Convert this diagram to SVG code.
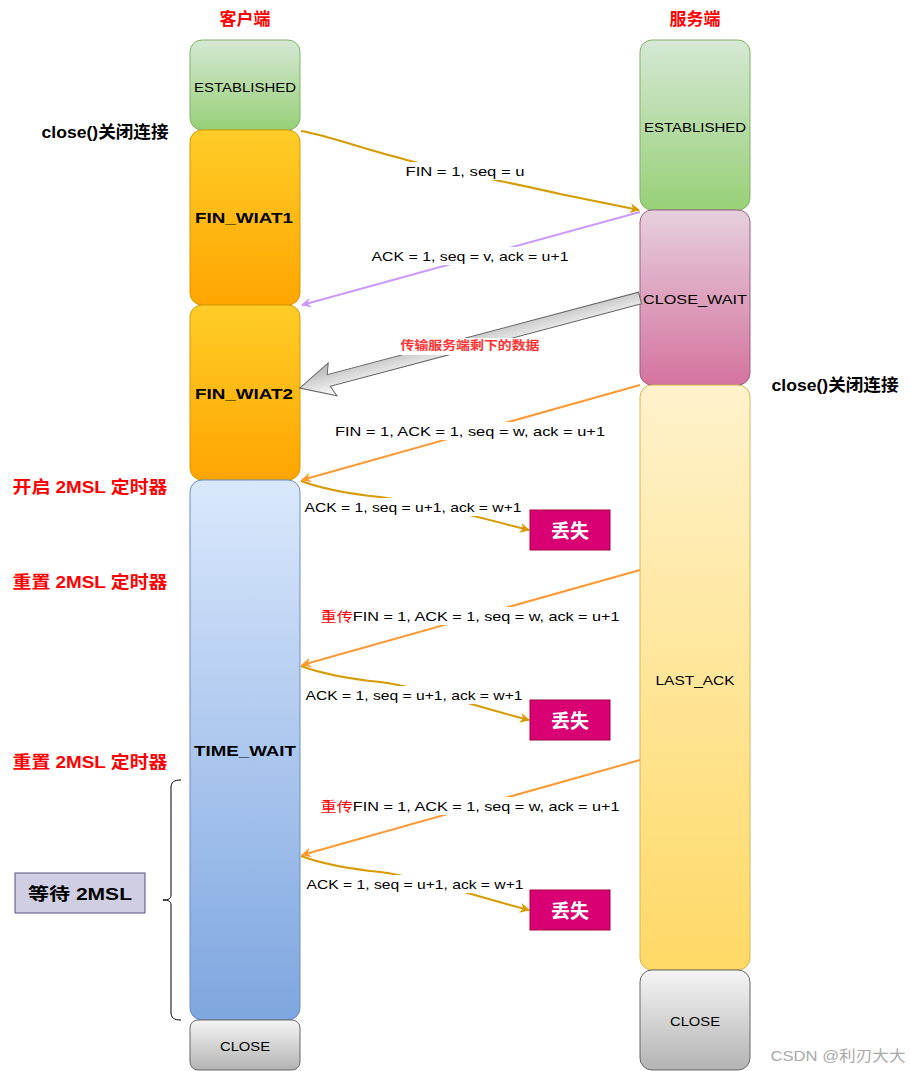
<svg xmlns="http://www.w3.org/2000/svg" width="910" height="1071" viewBox="0 0 910 1071">
<defs>
<linearGradient id="gGreen" x1="0" y1="0" x2="0" y2="1"><stop offset="0" stop-color="#d5e8d4"/><stop offset="1" stop-color="#97d077"/></linearGradient>
<linearGradient id="gOrange" x1="0" y1="0" x2="0" y2="1"><stop offset="0" stop-color="#ffcd28"/><stop offset="1" stop-color="#ffa500"/></linearGradient>
<linearGradient id="gBlue" x1="0" y1="0" x2="0" y2="1"><stop offset="0" stop-color="#dae8fc"/><stop offset="1" stop-color="#7ea6e0"/></linearGradient>
<linearGradient id="gGray" x1="0" y1="0" x2="0" y2="1"><stop offset="0" stop-color="#f5f5f5"/><stop offset="1" stop-color="#b3b3b3"/></linearGradient>
<linearGradient id="gPink" x1="0" y1="0" x2="0" y2="1"><stop offset="0" stop-color="#e6d0de"/><stop offset="1" stop-color="#d5739d"/></linearGradient>
<linearGradient id="gYellow" x1="0" y1="0" x2="0" y2="1"><stop offset="0" stop-color="#fff2cc"/><stop offset="1" stop-color="#ffd966"/></linearGradient>
<linearGradient id="gBig" x1="0" y1="0" x2="0" y2="1"><stop offset="0" stop-color="#ffffff"/><stop offset="1" stop-color="#b3b3b3"/></linearGradient>
<marker id="mGold" viewBox="0 0 10 10" refX="9" refY="5" markerWidth="10" markerHeight="10" markerUnits="userSpaceOnUse" orient="auto"><path d="M0,0 L10,5 L0,10 L3,5 z" fill="#d79b00"/></marker>
<marker id="mPurple" viewBox="0 0 10 10" refX="9" refY="5" markerWidth="10" markerHeight="10" markerUnits="userSpaceOnUse" orient="auto"><path d="M0,0 L10,5 L0,10 L3,5 z" fill="#cc99ff"/></marker>
<marker id="mOrange" viewBox="0 0 10 10" refX="9" refY="5" markerWidth="10" markerHeight="10" markerUnits="userSpaceOnUse" orient="auto"><path d="M0,0 L10,5 L0,10 L3,5 z" fill="#ff9933"/></marker>
</defs>
<style>
.st{font-family:"Liberation Sans",Arial,sans-serif;font-size:13px;fill:#000;text-anchor:middle;dominant-baseline:central}
.stb{font-weight:bold;font-size:14px}
.lbl{font-family:"Liberation Sans",Arial,sans-serif;font-size:13px;fill:#000;text-anchor:middle;dominant-baseline:central}
.red{fill:#ff0000}
.hdr{font-family:"Liberation Sans","Noto Sans CJK SC",sans-serif;font-size:17px;font-weight:bold;fill:#ff0000;text-anchor:middle;dominant-baseline:central}
.note{font-family:"Liberation Sans","Noto Sans CJK SC",sans-serif;font-size:17px;font-weight:bold;fill:#000;text-anchor:middle;dominant-baseline:central}
.cjk{font-family:"Liberation Sans","Noto Sans CJK SC",sans-serif}
.gold{fill:none;stroke:#d79b00;stroke-width:2;marker-end:url(#mGold)}
.purple{fill:none;stroke:#cc99ff;stroke-width:2;marker-end:url(#mPurple)}
.orange{fill:none;stroke:#ff9933;stroke-width:2;marker-end:url(#mOrange)}
.bg{fill:#ffffff}
.lost rect{fill:#d80073;stroke:#a50040;stroke-width:1}
.lost text{font-family:"Liberation Sans","Noto Sans CJK SC",sans-serif;font-size:19px;font-weight:bold;fill:#fff;text-anchor:middle;dominant-baseline:central}
</style>

<!-- headers -->
<text class="hdr" x="245" y="19">客户端</text>
<text class="hdr" x="695" y="19">服务端</text>
<text class="note" x="105" y="132" textLength="127" lengthAdjust="spacingAndGlyphs">close()关闭连接</text>
<text class="note" x="835" y="385" textLength="127" lengthAdjust="spacingAndGlyphs">close()关闭连接</text>

<!-- client states -->
<g id="c-established"><rect x="190" y="40" width="110" height="90" rx="12" fill="url(#gGreen)" stroke="#82b366"/><text class="st" x="245" y="87" textLength="102" lengthAdjust="spacingAndGlyphs">ESTABLISHED</text></g>
<g id="c-finwait1"><rect x="190" y="130" width="110" height="175" rx="12" fill="url(#gOrange)" stroke="#d79b00"/><text class="st stb" x="244" y="218" textLength="98" lengthAdjust="spacingAndGlyphs">FIN_WIAT1</text></g>
<g id="c-finwait2"><rect x="190" y="305" width="110" height="175" rx="12" fill="url(#gOrange)" stroke="#d79b00"/><text class="st stb" x="244" y="394" textLength="98" lengthAdjust="spacingAndGlyphs">FIN_WIAT2</text></g>
<g id="c-timewait"><rect x="190" y="480" width="110" height="540" rx="12" fill="url(#gBlue)" stroke="#6c8ebf"/><text class="st stb" x="245" y="751" textLength="102" lengthAdjust="spacingAndGlyphs">TIME_WAIT</text></g>
<g id="c-close"><rect x="190" y="1020" width="110" height="50" rx="8" fill="url(#gGray)" stroke="#666666"/><text class="st" x="245" y="1046" textLength="50" lengthAdjust="spacingAndGlyphs">CLOSE</text></g>

<!-- server states -->
<g id="s-established"><rect x="640" y="40" width="110" height="170" rx="12" fill="url(#gGreen)" stroke="#82b366"/><text class="st" x="695" y="127" textLength="102" lengthAdjust="spacingAndGlyphs">ESTABLISHED</text></g>
<g id="s-closewait"><rect x="640" y="210" width="110" height="175" rx="12" fill="url(#gPink)" stroke="#996185"/><text class="st" x="695" y="299" textLength="104" lengthAdjust="spacingAndGlyphs">CLOSE_WAIT</text></g>
<g id="s-lastack"><rect x="640" y="385" width="110" height="585" rx="12" fill="url(#gYellow)" stroke="#d6b656"/><text class="st" x="695" y="680" textLength="79" lengthAdjust="spacingAndGlyphs">LAST_ACK</text></g>
<g id="s-close"><rect x="640" y="970" width="110" height="100" rx="12" fill="url(#gGray)" stroke="#666666"/><text class="st" x="695" y="1021" textLength="50" lengthAdjust="spacingAndGlyphs">CLOSE</text></g>

<!-- connectors -->
<g id="connectors">
<path class="gold" d="M301,131 C330,136 360,148 400,158 C440,170 500,180 560,194 C590,200 615,205 639,210"/>
<path class="purple" d="M640,212 L302,305"/>
<g id="big-arrow"><polygon transform="translate(640,298) rotate(165.17)" points="0,-6 322,-6 318,-17 352,0 318,17 322,6 0,6" fill="url(#gBig)" stroke="#666666" stroke-width="1"/></g>
<path class="orange" d="M640,385 L302,480"/>
<path class="gold" d="M301,481 C320,488 340,493 380,497 C420,502 470,515 529,530"/>
<path class="orange" d="M640,570 L302,665"/>
<path class="gold" d="M301,666 C320,673 340,678 380,682 C420,687 470,705 529,720"/>
<path class="orange" d="M640,760 L302,855"/>
<path class="gold" d="M301,856 C320,863 340,868 380,872 C420,877 470,895 529,910"/>
</g>

<!-- labels -->
<g id="labels">
<rect class="bg" x="402" y="162" width="126" height="18"/>
<text class="lbl" x="465" y="171" textLength="119" lengthAdjust="spacingAndGlyphs">FIN = 1, seq = u</text>
<rect class="bg" x="370" y="247" width="202" height="18"/>
<text class="lbl" x="470" y="256" textLength="197" lengthAdjust="spacingAndGlyphs">ACK = 1, seq = v, ack = u+1</text>
<rect class="bg" x="399" y="338" width="144" height="17"/>
<text class="cjk" x="470" y="346" font-size="12.5" font-weight="bold" fill="#ff3333" text-anchor="middle" dominant-baseline="central" textLength="139" lengthAdjust="spacingAndGlyphs">传输服务端剩下的数据</text>
<rect class="bg" x="333" y="422" width="274" height="18"/>
<text class="lbl" x="470" y="431" textLength="270" lengthAdjust="spacingAndGlyphs">FIN = 1, ACK = 1, seq = w, ack = u+1</text>
<rect class="bg" x="302" y="498" width="222" height="18"/>
<text class="lbl" x="413" y="507" textLength="217" lengthAdjust="spacingAndGlyphs">ACK = 1, seq = u+1, ack = w+1</text>
<rect class="bg" x="318" y="607" width="304" height="18"/>
<text class="lbl" x="470" y="616" textLength="299" lengthAdjust="spacingAndGlyphs"><tspan class="red cjk">重传</tspan>FIN = 1, ACK = 1, seq = w, ack = u+1</text>
<rect class="bg" x="304" y="686" width="222" height="18"/>
<text class="lbl" x="414" y="695" textLength="217" lengthAdjust="spacingAndGlyphs">ACK = 1, seq = u+1, ack = w+1</text>
<rect class="bg" x="318" y="797" width="304" height="18"/>
<text class="lbl" x="470" y="806" textLength="299" lengthAdjust="spacingAndGlyphs"><tspan class="red cjk">重传</tspan>FIN = 1, ACK = 1, seq = w, ack = u+1</text>
<rect class="bg" x="304" y="875" width="222" height="18"/>
<text class="lbl" x="415" y="884" textLength="217" lengthAdjust="spacingAndGlyphs">ACK = 1, seq = u+1, ack = w+1</text>
</g>

<!-- lost boxes -->
<g id="lost1" class="lost"><rect x="530" y="510" width="80" height="40"/><text x="570" y="531">丢失</text></g>
<g id="lost2" class="lost"><rect x="530" y="700" width="80" height="40"/><text x="570" y="721">丢失</text></g>
<g id="lost3" class="lost"><rect x="530" y="890" width="80" height="40"/><text x="570" y="911">丢失</text></g>

<!-- timer labels -->
<text class="hdr" x="90" y="487" textLength="155" lengthAdjust="spacingAndGlyphs">开启 2MSL 定时器</text>
<text class="hdr" x="90" y="582" textLength="155" lengthAdjust="spacingAndGlyphs">重置 2MSL 定时器</text>
<text class="hdr" x="90" y="762" textLength="155" lengthAdjust="spacingAndGlyphs">重置 2MSL 定时器</text>

<!-- brace -->
<path d="M181,780 C174,780 171,782 171,788 L171,895 C171,899 168,900 163,900 C168,900 171,901 171,905 L171,1012 C171,1018 174,1020 181,1020" fill="none" stroke="#000" stroke-width="1"/>

<g id="wait-2msl"><rect x="15" y="873" width="130" height="40" fill="#d0cee2" stroke="#56517e"/><text class="note" x="80" y="894" font-size="19" textLength="104" lengthAdjust="spacingAndGlyphs">等待 2MSL</text></g>

<text x="838" y="1055" font-family="Liberation Sans,Noto Sans CJK SC,sans-serif" font-size="15" fill="#aaaaaa" text-anchor="middle" dominant-baseline="central" textLength="135" lengthAdjust="spacingAndGlyphs">CSDN @利刃大大</text>
</svg>
